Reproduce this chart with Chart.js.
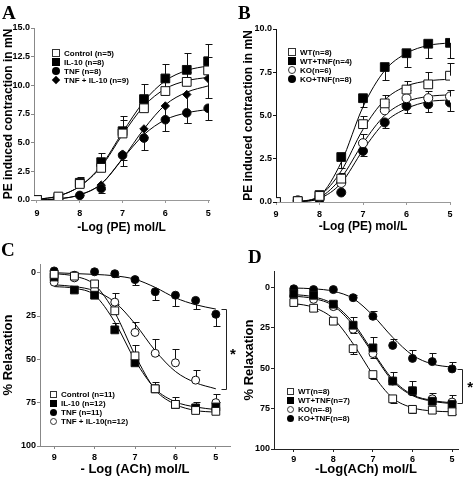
<!DOCTYPE html>
<html>
<head>
<meta charset="utf-8">
<script src="https://cdn.jsdelivr.net/npm/chart.js@4.4.1/dist/chart.umd.min.js"></script>
<style>
  body { margin: 0; background: #fff; }
  #fig { position: relative; width: 473px; height: 477px; overflow: hidden; font-family: "Liberation Sans", Arial, sans-serif; }
  canvas { position: absolute; }
  .letter { position: absolute; font-family: "Liberation Serif", "DejaVu Serif", serif; font-weight: bold; font-size: 19px; line-height: 1; }
  .legend { position: absolute; font-weight: bold; font-size: 8px; }
  .legend div { white-space: nowrap; height: 9px; line-height: 9px; }
  .mk { display: inline-block; width: 8px; height: 8px; box-sizing: border-box; vertical-align: -1px; margin-right: 4px; }
  .small .mk { width: 7px; height: 7px; }
  .sq-open { border: 1px solid #333; background: #fff; }
  .sq-fill { background: #000; }
  .ci-fill { background: #000; border-radius: 50%; }
  .ci-open { border: 1px solid #333; border-radius: 50%; background: #fff; }
  .dia { background: #000; transform: rotate(45deg) scale(0.75); }
</style>
</head>
<body>
<div id="fig">
  <canvas id="chartA" width="236" height="236" style="left:0;top:0"></canvas>
  <canvas id="chartB" width="237" height="236" style="left:236px;top:0"></canvas>
  <canvas id="chartC" width="236" height="241" style="left:0;top:236px"></canvas>
  <canvas id="chartD" width="237" height="241" style="left:236px;top:236px"></canvas>

  <div class="letter" style="left:2px;top:3px">A</div>
  <div class="letter" style="left:238px;top:3px">B</div>
  <div class="letter" style="left:1px;top:240px">C</div>
  <div class="letter" style="left:248px;top:247px">D</div>

  <div class="legend" style="left:52px;top:49px">
    <div><span class="mk sq-open"></span>Control (n=5)</div>
    <div><span class="mk sq-fill"></span>IL-10 (n=8)</div>
    <div><span class="mk ci-fill"></span>TNF (n=8)</div>
    <div><span class="mk dia"></span>TNF + IL-10 (n=9)</div>
  </div>
  <div class="legend" style="left:288px;top:48px">
    <div><span class="mk sq-open"></span>WT(n=8)</div>
    <div><span class="mk sq-fill"></span>WT+TNF(n=4)</div>
    <div><span class="mk ci-open"></span>KO(n=6)</div>
    <div><span class="mk ci-fill"></span>KO+TNF(n=8)</div>
  </div>
  <div class="legend small" style="left:50px;top:390px">
    <div><span class="mk sq-open"></span>Control (n=11)</div>
    <div><span class="mk sq-fill"></span>IL-10 (n=12)</div>
    <div><span class="mk ci-fill"></span>TNF (n=11)</div>
    <div><span class="mk ci-open"></span>TNF + IL-10(n=12)</div>
  </div>
  <div class="legend small" style="left:287px;top:387px">
    <div><span class="mk sq-open"></span>WT(n=8)</div>
    <div><span class="mk sq-fill"></span>WT+TNF(n=7)</div>
    <div><span class="mk ci-open"></span>KO(n=-8)</div>
    <div><span class="mk ci-fill"></span>KO+TNF(n=8)</div>
  </div>
</div>

<script>
// -log molar concentrations used in every panel
const logConc = [9, 8.5, 8, 7.5, 7, 6.5, 6, 5.5, 5];
const xTicks = [9, 8, 7, 6, 5];

// Panel A - PE contraction (mN)
const yTicksA = [0, 2.5, 5, 7.5, 10, 12.5, 15];
const ctrlA = [0, 0.3, 1.4, 2.8, 5.8, 8.0, 9.5, 10.3, 11.3];
const il10A = [0, 0.2, 1.5, 3.3, 6.0, 8.8, 10.6, 11.35, 12.1];
const tnfA = [0, 0.05, 0.4, 1.0, 3.9, 5.4, 7.0, 7.6, 8.0];
const combA = [0, 0.1, 0.4, 1.3, 4.0, 6.2, 8.2, 9.2, 10.6];
const errCtrlA = [0, 0, 0.3, 0.5, 1.2, 0.5, 0.8, 0.9, 1.2];
const errIl10A = [0, 0.1, 0.5, 0.8, 1.3, 1.3, 1.3, 1.45, 1.5];
const errTnfA = [0, 0, 0, -0.4, -0.9, -1.0, -0.95, -0.9, -1.05];
const errCombA = [0, 0, 0, -0.3, -0.5, -0.7, -1.0, -2.5, -1.7];
const fitCtrlA = [0.05, 0.35, 1.2, 2.9, 5.7, 8.2, 9.7, 10.4, 10.7];
const fitIl10A = [0.05, 0.35, 1.2, 3.0, 5.9, 8.6, 10.4, 11.3, 11.7];
const fitTnfA = [0, 0.1, 0.45, 1.4, 3.6, 5.7, 7.0, 7.6, 7.9];
const fitCombA = [0, 0.1, 0.45, 1.4, 3.6, 6.2, 8.3, 9.4, 9.95];

// Panel B - PE contraction (mN), WT vs KO
const yTicksB = [0, 2.5, 5, 7.5, 10];
const fitXB = [8.5, 8, 7.5, 7, 6.5, 6, 5.5, 5];
const wtB = [0, 0.05, 0.35, 1.35, 4.5, 5.7, 6.5, 6.8, 7.3];
const wtTnfB = [0, 0.05, 0.4, 2.6, 6.0, 7.8, 8.6, 9.15, 9.2];
const koB = [0, 0.1, 0.3, 1.1, 3.4, 5.3, 6.0, 6.0, 6.1];
const koTnfB = [0, 0.05, 0.15, 0.55, 2.95, 4.6, 5.55, 5.65, 5.75];
const errWtB = [0, 0, 0.1, 0.3, 0.5, 0.5, 0.5, 0.7, 0.75];
const errWtTnfB = [0, 0, 0, -0.65, -0.5, -0.75, -0.8, -0.85, -0.9];
const errKoB = [0, 0, 0, 0.25, 0.55, 0.5, 0.5, 0.4, 0.35];
const errKoTnfB = [0, 0, 0, 0, -0.3, -0.3, -0.4, -0.45, -0.5];
const fitWtB = [0, 0.35, 1.8, 4.2, 5.9, 6.7, 7.0, 7.1];
const fitWtTnfB = [0, 0.35, 2.3, 5.5, 7.6, 8.6, 9.05, 9.2];
const fitKoB = [0, 0.25, 1.4, 3.4, 5.0, 5.8, 6.1, 6.2];
const fitKoTnfB = [0, 0.2, 1.1, 3.0, 4.6, 5.4, 5.8, 5.9];

// Panel C - ACh relaxation (%)
const yTicksRelax = [0, 25, 50, 75, 100];
const ctrlC = [1, 2, 6.5, 22, 48, 67, 76, 79.5, 80];
const il10C = [2.5, 10, 13, 33, 52, 67, 76, 78, 77.5];
const tnfC = [-1, 1.5, -0.5, 0.6, 4, 11, 13, 16, 24];
const combC = [5.5, 3, 10, 17, 34.5, 46.5, 52, 62, 75];
const errCtrlC = [0, 0, 0, -4, -6, -4, -4, -5, -5.5];
const errIl10C = [0, 0, 0, -4, 0, 0, 0, 0, 0];
const errTnfC = [0, 0, 0, 2, 3, 4.5, 6, 5, 7];
const errCombC = [0, 0, 0, -5, -6, -8, -8, -6, -5];
const fitCtrlC = [0.5, 2, 7, 23, 47.5, 67.5, 76, 79.5, 80.5];
const fitIl10C = [8, 9, 13, 28.5, 50.5, 67, 74.5, 77.5, 79];
const fitTnfC = [0, 0.5, 1, 1.8, 3.8, 8.5, 14.5, 18.5, 21];
const fitCombC = [7, 8, 10.5, 17, 29.5, 45, 57, 63.5, 67];

// Panel D - ACh relaxation (%), WT vs KO
const wtD = [9.5, 13, 21, 38, 54, 69, 75.5, 76, 77];
const wtTnfD = [4, 5, 10.5, 23.5, 37.5, 58, 64, 70.5, 72.5];
const koD = [5.5, 7.5, 12, 26, 41, 58, 64, 69, 71];
const koTnfD = [1, 1.5, 1.5, 6.5, 18, 36, 44, 46, 50.5];
const errWtD = [1, 1.5, 2, 3, 2.5, 2.5, 2, 1.5, 1.5];
const errWtTnfD = [0, 0, -2, -5, -7, -5.5, -6, -5, -6];
const errKoD = [0, 0, 1.5, 2.5, 3, 0, 2.5, 2, 0];
const errKoTnfD = [0, 0, 0, -1.5, -3.5, -4, -5, -5.5, -4.5];
const fitWtD = [10, 12.5, 19.5, 35, 54, 68.5, 74.5, 76.5, 77];
const fitWtTnfD = [4.5, 6, 10.5, 22, 40, 57, 66.5, 70, 71.5];
const fitKoD = [5.5, 7, 11.5, 23.5, 41, 58, 67, 70.5, 72];
const fitKoTnfD = [0.5, 1, 2.5, 7, 17.5, 31, 42, 47.5, 49.5];

Chart.defaults.font.family = '"Liberation Sans", Arial, sans-serif';
Chart.defaults.color = '#000';

const tickFont = { size: 9, weight: 'bold' };

// Error bars, drawn under the markers and curves
const errorBarPlugin = {
    id: 'errorBars',
    beforeDatasetsDraw(chart) {
        const ctx = chart.ctx;
        const xs = chart.scales.x, ys = chart.scales.y;
        ctx.save();
        ctx.strokeStyle = '#111';
        ctx.lineWidth = 1;
        chart.data.datasets.forEach(ds => {
            if (!ds.errors) return;
            ds.data.forEach((p, i) => {
                const e = ds.errors[i];
                if (!e) return;
                const px = Math.round(xs.getPixelForValue(p.x)) + 0.5;
                const y0 = ys.getPixelForValue(p.y);
                const y1 = Math.round(ys.getPixelForValue(p.y + e)) + 0.5;
                ctx.beginPath();
                ctx.moveTo(px, y0);
                ctx.lineTo(px, y1);
                ctx.moveTo(px - 3, y1);
                ctx.lineTo(px + 4, y1);
                ctx.stroke();
            });
        });
        ctx.restore();
    }
};

// Significance bracket with a star
const bracketPlugin = {
    id: 'sigBracket',
    afterDatasetsDraw(chart, args, opts) {
        if (opts.x == null) return;
        const ctx = chart.ctx;
        const xs = chart.scales.x, ys = chart.scales.y;
        const x = Math.round(xs.getPixelForValue(opts.x)) + 0.5;
        const y1 = Math.round(ys.getPixelForValue(opts.from)) + 0.5;
        const y2 = Math.round(ys.getPixelForValue(opts.to)) + 0.5;
        ctx.save();
        ctx.strokeStyle = '#222';
        ctx.lineWidth = 1;
        ctx.beginPath();
        ctx.moveTo(x - 5, y1);
        ctx.lineTo(x, y1);
        ctx.lineTo(x, y2);
        ctx.lineTo(x - 5, y2);
        ctx.stroke();
        ctx.fillStyle = '#000';
        ctx.font = 'bold 15px "Liberation Sans", Arial, sans-serif';
        ctx.textAlign = 'center';
        ctx.textBaseline = 'middle';
        ctx.fillText('*', xs.getPixelForValue(opts.starX), ys.getPixelForValue(opts.starY) + 4);
        ctx.restore();
    }
};

function pointSet(ys, errs, style, filled, r) {
    return {
        data: logConc.map((x, i) => ({ x: x, y: ys[i] })),
        errors: errs,
        pointStyle: style,
        pointRadius: r,
        pointBackgroundColor: filled ? '#000' : '#fff',
        pointBorderColor: '#111',
        pointBorderWidth: 1,
        showLine: false,
        order: 1
    };
}

function fitSet(xs, ys) {
    return {
        data: xs.map((x, i) => ({ x: x, y: ys[i] })),
        showLine: true,
        pointRadius: 0,
        borderColor: '#000',
        borderWidth: 1,
        cubicInterpolationMode: 'monotone',
        fill: false,
        order: 2
    };
}

// Builds one panel; geometry values place the plot area on the figure
function makePanel(id, p) {
    const titleFont = { size: p.titleSize, weight: 'bold' };
    new Chart(document.getElementById(id), {
        type: 'scatter',
        data: { datasets: p.datasets },
        options: {
            responsive: false,
            animation: false,
            events: [],
            layout: { autoPadding: false, padding: p.padding },
            plugins: {
                legend: { display: false },
                tooltip: { enabled: false },
                sigBracket: p.bracket || {}
            },
            scales: {
                x: {
                    type: 'linear',
                    reverse: true,
                    min: p.xMin,
                    max: p.xMax,
                    afterBuildTicks: s => { s.ticks = xTicks.map(v => ({ value: v })); },
                    afterFit: s => { s.height = p.xHeight; },
                    ticks: { font: tickFont, padding: p.xTickPad, maxRotation: 0, autoSkip: false, callback: v => String(v) },
                    grid: { drawOnChartArea: false, drawTicks: true, tickLength: 3, tickColor: p.xColor },
                    border: { display: true, color: p.xColor, width: 1 },
                    title: { display: true, text: p.xTitle, font: titleFont, padding: { top: 0, bottom: p.xTitlePad } }
                },
                y: {
                    type: 'linear',
                    reverse: !!p.yReverse,
                    min: p.yMin,
                    max: p.yMax,
                    afterBuildTicks: s => { s.ticks = p.yTicks.map(v => ({ value: v })); },
                    afterFit: s => { s.width = p.yWidth; },
                    ticks: { font: tickFont, padding: 1, autoSkip: false, callback: p.yFormat },
                    grid: { drawOnChartArea: false, drawTicks: true, tickLength: 3, tickColor: p.yColor },
                    border: { display: true, color: p.yColor, width: 1 },
                    title: { display: true, text: p.yTitle, font: titleFont, padding: { top: p.yTitlePad, bottom: 0 } }
                }
            }
        },
        plugins: [errorBarPlugin, bracketPlugin]
    });
}

function initFigure() {
    makePanel('chartA', {
        datasets: [
            pointSet(ctrlA, errCtrlA, 'rect', false, 6.2),
            pointSet(il10A, errIl10A, 'rect', true, 6.2),
            pointSet(tnfA, errTnfA, 'circle', true, 4.3),
            pointSet(combA, errCombA, 'rectRot', true, 4.2),
            fitSet(logConc, fitCtrlA),
            fitSet(logConc, fitIl10A),
            fitSet(logConc, fitTnfA),
            fitSet(logConc, fitCombA)
        ],
        padding: { left: 0, top: 28, right: 27, bottom: 0 },
        xMin: 4.98, xMax: 9.07, xHeight: 36, xColor: '#999', xTickPad: 5,
        yMin: 0, yMax: 15, yTicks: yTicksA, yWidth: 34, yColor: '#888',
        yFormat: v => v.toFixed(1), titleSize: 12,
        xTitle: '-Log (PE) mol/L', xTitlePad: 1,
        yTitle: 'PE induced contraction in mN', yTitlePad: 1
    });

    makePanel('chartB', {
        datasets: [
            pointSet(wtB, errWtB, 'rect', false, 6.2),
            pointSet(wtTnfB, errWtTnfB, 'rect', true, 6.2),
            pointSet(koB, errKoB, 'circle', false, 4.5),
            pointSet(koTnfB, errKoTnfB, 'circle', true, 4.5),
            fitSet(fitXB, fitWtB),
            fitSet(fitXB, fitWtTnfB),
            fitSet(fitXB, fitKoB),
            fitSet(fitXB, fitKoTnfB)
        ],
        padding: { left: 0, top: 29, right: 23, bottom: 0 },
        xMin: 5, xMax: 9, xHeight: 34, xColor: '#999', xTickPad: 4,
        yMin: 0, yMax: 10, yTicks: yTicksB, yWidth: 40, yColor: '#111',
        yFormat: v => v.toFixed(1), titleSize: 12,
        xTitle: '-Log (PE) mol/L', xTitlePad: 2,
        yTitle: 'PE induced contraction in mN', yTitlePad: 5
    });

    makePanel('chartC', {
        datasets: [
            pointSet(ctrlC, errCtrlC, 'rect', false, 5.5),
            pointSet(il10C, errIl10C, 'rect', true, 5.5),
            pointSet(tnfC, errTnfC, 'circle', true, 4),
            pointSet(combC, errCombC, 'circle', false, 4),
            fitSet(logConc, fitCtrlC),
            fitSet(logConc, fitIl10C),
            fitSet(logConc, fitTnfC),
            fitSet(logConc, fitCombC)
        ],
        padding: { left: 0, top: 28, right: 6, bottom: 0 },
        xMin: 4.65, xMax: 9.35, xHeight: 31, xColor: '#888', xTickPad: 3,
        yMin: -5, yMax: 100, yReverse: true, yTicks: yTicksRelax, yWidth: 40, yColor: '#888',
        yFormat: v => String(v), titleSize: 13,
        xTitle: '- Log (ACh) mol/L', xTitlePad: 0,
        yTitle: '% Relaxation', yTitlePad: 1,
        bracket: { x: 4.74, from: 21, to: 67, starX: 4.58, starY: 45 }
    });

    makePanel('chartD', {
        datasets: [
            pointSet(wtD, errWtD, 'rect', false, 5.5),
            pointSet(wtTnfD, errWtTnfD, 'rect', true, 5.5),
            pointSet(koD, errKoD, 'circle', false, 4),
            pointSet(koTnfD, errKoTnfD, 'circle', true, 4),
            fitSet(logConc, fitWtD),
            fitSet(logConc, fitWtTnfD),
            fitSet(logConc, fitKoD),
            fitSet(logConc, fitKoTnfD)
        ],
        padding: { left: 0, top: 35, right: 15, bottom: 0 },
        xMin: 4.85, xMax: 9.5, xHeight: 28, xColor: '#222', xTickPad: 2,
        yMin: -10, yMax: 100, yReverse: true, yTicks: yTicksRelax, yWidth: 38, yColor: '#222',
        yFormat: v => String(v), titleSize: 13,
        xTitle: '-Log(ACh) mol/L', xTitlePad: 0,
        yTitle: '% Relaxation', yTitlePad: 6,
        bracket: { x: 4.74, from: 50.5, to: 71.5, starX: 4.54, starY: 60 }
    });
}

window.addEventListener('DOMContentLoaded', initFigure);
</script>
</body>
</html>
